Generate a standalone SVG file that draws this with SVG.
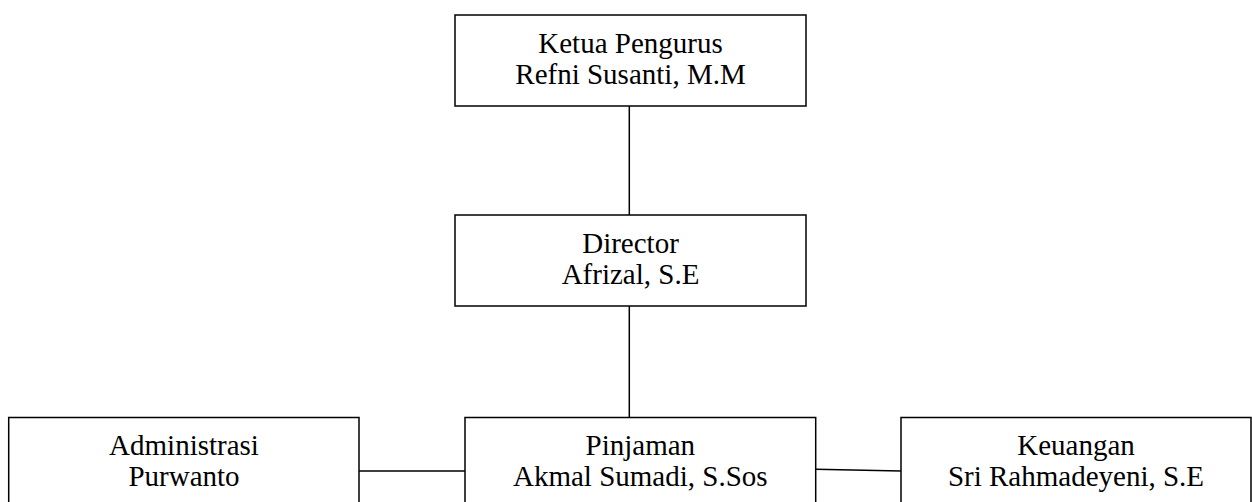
<svg xmlns="http://www.w3.org/2000/svg" width="1252" height="502" viewBox="0 0 1252 502">
<style>
.box{fill:#fff;stroke:#000;stroke-width:1.5}
.lbl{font-family:"Liberation Serif","Times New Roman",serif;font-size:29px;fill:#000;text-anchor:middle}
.conn{stroke:#000;stroke-width:1.5;fill:none}
</style>
<rect width="1252" height="502" fill="#fff"/>
<g id="connectors">
<line class="conn" x1="629.3" y1="106" x2="629.3" y2="215"/>
<line class="conn" x1="629.3" y1="306" x2="629.3" y2="417.5"/>
<line class="conn" x1="359" y1="471" x2="465" y2="471"/>
<line class="conn" x1="815.7" y1="469.3" x2="901" y2="471"/>
</g>
<g id="ketua">
<rect class="box" x="455" y="15" width="351" height="91"/>
<text class="lbl" x="630.5" y="53">Ketua Pengurus</text>
<text class="lbl" x="630.5" y="84">Refni Susanti, M.M</text>
</g>
<g id="director">
<rect class="box" x="455" y="215" width="351" height="91"/>
<text class="lbl" x="630.5" y="253">Director</text>
<text class="lbl" x="630.5" y="284">Afrizal, S.E</text>
</g>
<g id="administrasi">
<rect class="box" x="8.7" y="417.5" width="350.3" height="91"/>
<text class="lbl" x="184" y="455">Administrasi</text>
<text class="lbl" x="184" y="486">Purwanto</text>
</g>
<g id="pinjaman">
<rect class="box" x="465" y="417.5" width="350.7" height="91"/>
<text class="lbl" x="640.3" y="455">Pinjaman</text>
<text class="lbl" x="640.3" y="486">Akmal Sumadi, S.Sos</text>
</g>
<g id="keuangan">
<rect class="box" x="901" y="417.5" width="350" height="91"/>
<text class="lbl" x="1076" y="455">Keuangan</text>
<text class="lbl" x="1076" y="486">Sri Rahmadeyeni, S.E</text>
</g>
</svg>
